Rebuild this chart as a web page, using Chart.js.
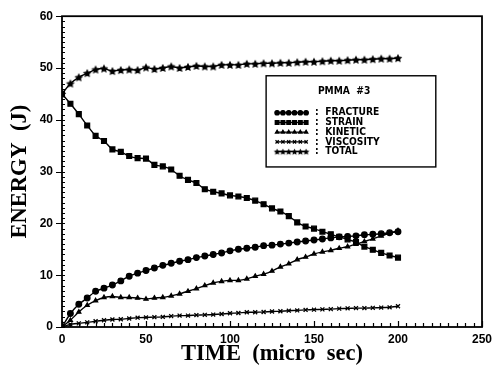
<!DOCTYPE html>
<html>
<head>
<meta charset="utf-8">
<script src="https://cdn.jsdelivr.net/npm/chart.js@4.4.1/dist/chart.umd.min.js"></script>
<style>
  html, body { margin: 0; padding: 0; background: #fff; }
  #wrap { width: 499px; height: 368px; }
</style>
</head>
<body>
<div id="wrap"><canvas id="energyChart" width="499" height="368"></canvas></div>
<script>
// PMMA #3 energy balance, sampled every 5 micro sec
const time = [0, 5, 10, 15, 20, 25, 30, 35, 40, 45, 50, 55, 60, 65, 70, 75, 80, 85, 90, 95,
  100, 105, 110, 115, 120, 125, 130, 135, 140, 145, 150, 155, 160, 165, 170, 175, 180, 185, 190, 195, 200];

const fracture = [0, 2.6, 4.4, 5.6, 6.9, 7.5, 8.1, 8.9, 9.8, 10.4, 10.9, 11.4, 11.9, 12.3, 12.7, 13.0, 13.4, 13.7, 14.0, 14.3,
  14.7, 15.0, 15.2, 15.4, 15.7, 15.8, 16.0, 16.2, 16.4, 16.6, 16.8, 17.0, 17.2, 17.4, 17.5, 17.6, 17.8, 17.9, 18.0, 18.2, 18.4];
const strain = [45, 43.1, 41.1, 38.9, 36.9, 35.9, 34.3, 33.8, 33.0, 32.6, 32.5, 31.3, 31.0, 30.4, 29.2, 28.4, 27.8, 26.6, 26.1, 25.8,
  25.4, 25.2, 24.9, 24.4, 23.7, 22.9, 22.3, 21.4, 20.2, 19.4, 19.0, 18.4, 17.9, 17.4, 16.9, 16.4, 15.5, 14.9, 14.3, 13.8, 13.4];
const kinetic = [0, 1.3, 2.9, 4.2, 5.1, 5.7, 5.9, 5.7, 5.7, 5.6, 5.4, 5.6, 5.7, 6.0, 6.4, 6.9, 7.4, 8.0, 8.5, 8.8,
  9.0, 9.0, 9.3, 9.8, 10.2, 10.8, 11.6, 12.2, 13.0, 13.5, 14.1, 14.5, 14.8, 15.2, 15.5, 16.0, 16.5, 17.0, 17.6, 18.1, 18.6];
const viscosity = [0, 0.5, 0.7, 0.9, 1.1, 1.3, 1.45, 1.5, 1.65, 1.8, 1.85, 1.9, 1.95, 2.1, 2.2, 2.2, 2.3, 2.35, 2.4, 2.5,
  2.65, 2.7, 2.85, 2.85, 2.9, 3.0, 3.05, 3.15, 3.2, 3.3, 3.35, 3.4, 3.45, 3.55, 3.6, 3.65, 3.65, 3.7, 3.75, 3.8, 4.0];
const total = [45, 47.0, 48.2, 49.0, 49.7, 49.9, 49.4, 49.6, 49.7, 49.6, 50.1, 49.8, 50.0, 50.3, 50.0, 50.2, 50.4, 50.3, 50.3, 50.6,
  50.6, 50.6, 50.8, 50.8, 50.9, 50.9, 51.0, 51.0, 51.1, 51.2, 51.2, 51.3, 51.4, 51.4, 51.5, 51.6, 51.6, 51.7, 51.8, 51.8, 51.9];

const seriesNames = ["FRACTURE", "STRAIN", "KINETIC", "VISCOSITY", "TOTAL"];
const xTicks = [0, 50, 100, 150, 200, 250];
const yTicks = [0, 10, 20, 30, 40, 50, 60];

// filled five point star, Chart.js only has an asterisk "star"
function makeStar(r) {
  const c = document.createElement("canvas");
  const s = Math.ceil(r * 2 + 2);
  c.width = s; c.height = s;
  const g = c.getContext("2d");
  g.fillStyle = "#000";
  g.beginPath();
  for (let i = 0; i < 10; i++) {
    const rad = i % 2 === 0 ? r : r * 0.5;
    const a = -Math.PI / 2 + i * Math.PI / 5;
    const px = s / 2 + rad * Math.cos(a), py = s / 2 + 0.4 + rad * Math.sin(a);
    i === 0 ? g.moveTo(px, py) : g.lineTo(px, py);
  }
  g.closePath();
  g.fill();
  return c;
}
const bigStar = makeStar(4.6);
const smallStar = makeStar(3.4);

function pts(vals) {
  return vals.map((v, i) => ({ x: time[i], y: v }));
}

const styles = [
  { pointStyle: "circle", pointRadius: 2.8, legendRadius: 2.2 },
  { pointStyle: "rect", pointRadius: 3.4, legendRadius: 2.6 },
  { pointStyle: "triangle", pointRadius: 2.3, legendRadius: 1.9 },
  { pointStyle: "crossRot", pointRadius: 2.8, legendRadius: 2.3 },
  { pointStyle: bigStar, pointRadius: 4, legendRadius: 3 }
];

const datasets = [fracture, strain, kinetic, viscosity, total].map((vals, i) => ({
  label: seriesNames[i],
  data: pts(vals),
  borderColor: "#000",
  backgroundColor: "#000",
  borderWidth: 1.4,
  pointBorderWidth: 1.3,
  pointStyle: styles[i].pointStyle,
  pointRadius: styles[i].pointRadius,
  tension: 0.15
}));

// box around the plot plus the small ticks along both axes
const framePlugin = {
  id: "frame",
  afterDraw(chart) {
    const { ctx, chartArea: a, scales } = chart;
    ctx.save();
    ctx.strokeStyle = "#000";
    ctx.lineWidth = 1.8;
    ctx.strokeRect(a.left, a.top, a.right - a.left, a.bottom - a.top);
    ctx.lineWidth = 1.2;
    ctx.beginPath();
    for (let v = 0; v <= 60; v++) {
      const y = Math.round(scales.y.getPixelForValue(v)) + 0.5;
      if (v % 10 === 0) {
        ctx.moveTo(a.left - 6, y); ctx.lineTo(a.left + 3, y);
      } else {
        ctx.moveTo(a.left, y); ctx.lineTo(a.left + 3, y);
      }
    }
    for (let v = 0; v <= 250; v += 5) {
      const x = Math.round(scales.x.getPixelForValue(v)) + 0.5;
      const len = v % 50 === 0 ? 6 : 4;
      ctx.moveTo(x, a.bottom); ctx.lineTo(x, a.bottom - len);
    }
    ctx.stroke();
    ctx.restore();
  }
};

// boxed key inside the plot
const keyPlugin = {
  id: "key",
  afterDraw(chart) {
    const { ctx, scales } = chart;
    const left = scales.x.getPixelForValue(121.5), right = scales.x.getPixelForValue(222.5);
    const top = scales.y.getPixelForValue(48.5), bottom = scales.y.getPixelForValue(30.9);
    ctx.save();
    ctx.fillStyle = "#fff";
    ctx.fillRect(left, top, right - left, bottom - top);
    ctx.strokeStyle = "#000";
    ctx.lineWidth = 1.4;
    ctx.strokeRect(left, top, right - left, bottom - top);
    ctx.fillStyle = "#000";
    ctx.textBaseline = "middle";
    ctx.font = "bold 10.2px 'DejaVu Sans Condensed', 'Liberation Sans Narrow', sans-serif";
    ctx.textAlign = "center";
    ctx.fillText("PMMA  #3", left + 78, top + 16);
    ctx.textAlign = "left";
    const helpers = Chart.helpers;
    chart.data.datasets.forEach((ds, i) => {
      const y = top + 37 + i * 9.7;
      const x0 = left + 11, x1 = left + 40;
      ctx.lineWidth = 1.3;
      ctx.beginPath();
      ctx.moveTo(x0, y); ctx.lineTo(x1, y);
      ctx.stroke();
      for (let k = 0; k < 6; k++) {
        const px = x0 + k * (x1 - x0) / 5;
        const st = styles[i];
        if (i === 4) {
          ctx.drawImage(smallStar, px - smallStar.width / 2, y - smallStar.height / 2);
        } else {
          helpers.drawPoint(ctx, { pointStyle: st.pointStyle, radius: st.legendRadius, borderWidth: 1.1, rotation: 0 }, px, y);
          ctx.fill();
        }
      }
      ctx.fillText(":  " + ds.label, x1 + 9, y);
    });
    ctx.restore();
  }
};

new Chart(document.getElementById("energyChart"), {
  type: "line",
  data: { datasets },
  options: {
    responsive: false,
    animation: false,
    layout: { padding: { top: 10, right: 17, left: 0, bottom: 0 } },
    plugins: { legend: { display: false }, tooltip: { enabled: false } },
    scales: {
      x: {
        type: "linear",
        min: 0,
        max: 250,
        grid: { display: false, drawTicks: false },
        border: { display: false },
        afterBuildTicks: s => { s.ticks = xTicks.map(v => ({ value: v })); },
        afterFit: s => { s.height = 41; },
        ticks: {
          color: "#000",
          padding: 5,
          autoSkip: false,
          maxRotation: 0,
          font: { family: "'Liberation Sans', Arial, sans-serif", size: 12, weight: "bold" }
        },
        title: {
          display: true,
          text: "TIME  (micro  sec)",
          color: "#000",
          padding: { top: 0, bottom: 0 },
          font: { family: "'Liberation Serif', 'DejaVu Serif', serif", size: 22.5, weight: "bold" }
        }
      },
      y: {
        min: 0,
        max: 60,
        grid: { display: false, drawTicks: false },
        border: { display: false },
        afterBuildTicks: s => { s.ticks = yTicks.map(v => ({ value: v })); },
        afterFit: s => { s.width = 62; },
        ticks: {
          color: "#000",
          padding: 9,
          autoSkip: false,
          font: { family: "'Liberation Sans', Arial, sans-serif", size: 12, weight: "bold" }
        },
        title: {
          display: true,
          text: "ENERGY  (J)",
          color: "#000",
          padding: { top: 7, bottom: 0 },
          font: { family: "'Liberation Serif', 'DejaVu Serif', serif", size: 22.5, weight: "bold" }
        }
      }
    }
  },
  plugins: [framePlugin, keyPlugin]
});
</script>
</body>
</html>
